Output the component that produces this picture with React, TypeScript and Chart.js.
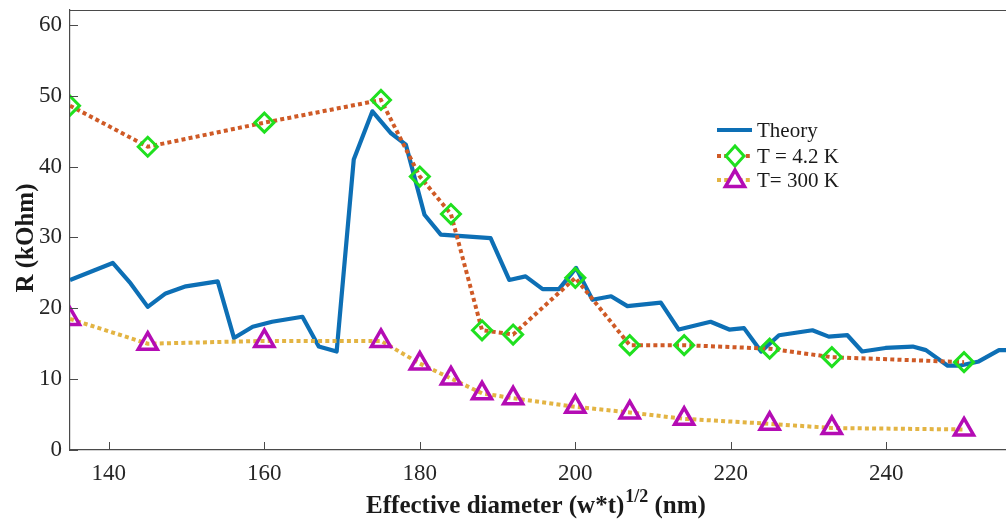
import React, { useEffect, useRef } from 'react';
import { Chart, registerables } from 'chart.js';

Chart.register(...registerables);

// ---------- data ----------
const theoryX = [135, 140.5, 142.8, 145, 147.3, 149.9, 154.0, 156.1, 158.5, 161.0, 164.9, 167.0, 169.3, 171.5, 173.9, 176.3, 178.2, 180.6, 182.7, 189.1, 191.5, 193.6, 195.8, 197.9, 200.1, 202.2, 204.6, 206.7, 211.0, 213.3, 217.4, 219.8, 221.7, 223.9, 226.2, 230.5, 232.6, 235.0, 236.9, 239.9, 243.4, 245.1, 247.9, 249.4, 251.9, 254.5, 256.0];
const theoryY = [24.0, 26.4, 23.5, 20.2, 22.1, 23.1, 23.8, 15.8, 17.4, 18.1, 18.8, 14.6, 13.9, 41.0, 47.8, 44.7, 43.1, 33.2, 30.4, 29.9, 24.0, 24.5, 22.7, 22.7, 25.7, 21.2, 21.7, 20.3, 20.8, 17.0, 18.1, 17.0, 17.2, 13.9, 16.2, 16.9, 16.0, 16.2, 13.9, 14.4, 14.6, 14.1, 11.9, 11.9, 12.5, 14.1, 14.1];

const measX = [135, 145, 160, 175, 180, 184, 188, 192, 200, 207, 214, 225, 233, 250];
const lowTY = [48.6, 42.8, 46.2, 49.4, 38.6, 33.3, 16.9, 16.3, 24.3, 14.8, 14.8, 14.3, 13.1, 12.4];
const roomTY = [18.5, 15.0, 15.4, 15.4, 12.2, 10.1, 8.0, 7.3, 6.1, 5.3, 4.4, 3.7, 3.1, 2.9];

const xTicks = [140, 160, 180, 200, 220, 240];
const yTicks = [0, 10, 20, 30, 40, 50, 60];

const seriesNames = ['Theory', 'T = 4.2 K', 'T= 300 K'];
const xTitleMain = 'Effective diameter (w*t)';
const xTitleSup = '1/2';
const xTitleEnd = ' (nm)';
const yTitle = 'R (kOhm)';

// ---------- styles ----------
const BLUE = '#0d6fb5';
const ORANGE = '#cf5a26';
const YELLOW = '#e3b443';
const GREEN = '#1fe01f';
const MAGENTA = '#b40cb4';
const AXIS = '#4a4a4a';
const TXT = '#262626';
const SERIF = '"Liberation Serif", "Times New Roman", serif';
const DASH = [4, 3.2];

const toPts = (xs: number[], ys: number[]) => xs.map((x, i) => ({ x, y: ys[i] }));

const zeroPad = (s: any) => {
  s.paddingTop = 0;
  s.paddingBottom = 0;
  s.paddingLeft = 0;
  s.paddingRight = 0;
};

const decorPlugin = {
  id: 'decor',
  afterDraw(chart: any) {
    const { ctx, chartArea } = chart;
    const xs = chart.scales.x;
    const ys = chart.scales.y;
    ctx.save();
    // top border
    ctx.strokeStyle = AXIS;
    ctx.lineWidth = 1.2;
    ctx.beginPath();
    ctx.moveTo(chartArea.left, chartArea.top + 0.5);
    ctx.lineTo(chartArea.right, chartArea.top + 0.5);
    ctx.stroke();
    // inward ticks
    ctx.lineWidth = 1;
    xTicks.forEach((v) => {
      const px = Math.round(xs.getPixelForValue(v)) + 0.5;
      ctx.beginPath();
      ctx.moveTo(px, chartArea.bottom);
      ctx.lineTo(px, chartArea.bottom - 8);
      ctx.stroke();
    });
    yTicks.forEach((v) => {
      const py = Math.round(ys.getPixelForValue(v)) + 0.5;
      ctx.beginPath();
      ctx.moveTo(chartArea.left, py);
      ctx.lineTo(chartArea.left + 8, py);
      ctx.stroke();
    });

    // x title with superscript
    ctx.fillStyle = '#1a1a1a';
    ctx.textBaseline = 'alphabetic';
    ctx.textAlign = 'left';
    const mainFont = `bold 25px ${SERIF}`;
    const supFont = `bold 18px ${SERIF}`;
    ctx.font = mainFont;
    const w1 = ctx.measureText(xTitleMain).width;
    const w3 = ctx.measureText(xTitleEnd).width;
    ctx.font = supFont;
    const w2 = ctx.measureText(xTitleSup).width;
    const total = w1 + w2 + w3;
    const cx = 535.5;
    let tx = cx - total / 2;
    const base = 513;
    ctx.font = mainFont;
    ctx.fillText(xTitleMain, tx, base);
    tx += w1;
    ctx.font = supFont;
    ctx.fillText(xTitleSup, tx + 1, base - 11);
    tx += w2 + 1;
    ctx.font = mainFont;
    ctx.fillText(xTitleEnd, tx, base);

    // y title
    ctx.save();
    ctx.translate(33, 238);
    ctx.rotate(-Math.PI / 2);
    ctx.textAlign = 'center';
    ctx.textBaseline = 'alphabetic';
    ctx.font = `bold 25px ${SERIF}`;
    ctx.fillText(yTitle, 0, 0);
    ctx.restore();

    // legend
    const lx0 = 717;
    const lx1 = 752;
    const mx = 735;
    const rows = [130, 156, 180];
    ctx.strokeStyle = BLUE;
    ctx.lineWidth = 4;
    ctx.setLineDash([]);
    ctx.beginPath();
    ctx.moveTo(lx0, rows[0]);
    ctx.lineTo(lx1, rows[0]);
    ctx.stroke();
    ctx.strokeStyle = ORANGE;
    ctx.lineWidth = 4;
    ctx.setLineDash(DASH);
    ctx.beginPath();
    ctx.moveTo(lx0, rows[1]);
    ctx.lineTo(lx1, rows[1]);
    ctx.stroke();
    ctx.strokeStyle = YELLOW;
    ctx.beginPath();
    ctx.moveTo(lx0, rows[2]);
    ctx.lineTo(lx1, rows[2]);
    ctx.stroke();
    ctx.setLineDash([]);
    ctx.fillStyle = '#ffffff';
    ctx.strokeStyle = GREEN;
    ctx.lineWidth = 3;
    ctx.beginPath();
    ctx.moveTo(mx - 9, rows[1]);
    ctx.lineTo(mx, rows[1] - 10);
    ctx.lineTo(mx + 9, rows[1]);
    ctx.lineTo(mx, rows[1] + 10);
    ctx.closePath();
    ctx.fill();
    ctx.stroke();
    ctx.strokeStyle = MAGENTA;
    ctx.lineWidth = 3.5;
    ctx.beginPath();
    const r = 11;
    for (let k = 0; k < 3; k++) {
      const a = (k * 2 * Math.PI) / 3;
      const px = mx + Math.sin(a) * r;
      const py = rows[2] + 1 - Math.cos(a) * r;
      if (k === 0) ctx.moveTo(px, py);
      else ctx.lineTo(px, py);
    }
    ctx.closePath();
    ctx.fill();
    ctx.stroke();
    ctx.fillStyle = '#1a1a1a';
    ctx.font = `21px ${SERIF}`;
    ctx.textAlign = 'left';
    ctx.textBaseline = 'middle';
    seriesNames.forEach((n, i) => ctx.fillText(n, 757, rows[i] + 1));
    ctx.restore();
  },
};

export default function App() {
  const ref = useRef<HTMLCanvasElement>(null);
  useEffect(() => {
    if (!ref.current) return;
    const chart = new Chart(ref.current, {
      type: 'line',
      data: {
        datasets: [
          {
            label: seriesNames[0],
            data: toPts(theoryX, theoryY),
            borderColor: BLUE,
            borderWidth: 4.2,
            pointRadius: 0,
            tension: 0,
            order: 3,
            borderJoinStyle: 'round',
          },
          {
            label: seriesNames[1],
            data: toPts(measX, lowTY),
            borderColor: ORANGE,
            borderWidth: 4,
            borderDash: DASH,
            pointStyle: 'rectRot',
            pointRadius: 9.5,
            pointBorderWidth: 3,
            pointBorderColor: GREEN,
            pointBackgroundColor: 'rgba(255,255,255,0)',
            tension: 0,
            order: 2,
          },
          {
            label: seriesNames[2],
            data: toPts(measX, roomTY),
            borderColor: YELLOW,
            borderWidth: 4,
            borderDash: DASH,
            pointStyle: 'triangle',
            pointRadius: 11,
            pointBorderWidth: 3.5,
            pointBorderColor: MAGENTA,
            pointBackgroundColor: 'rgba(255,255,255,0)',
            tension: 0,
            order: 1,
          },
        ],
      } as any,
      options: {
        animation: false,
        responsive: false,
        devicePixelRatio: 1,
        layout: { autoPadding: false, padding: { top: 10, right: 0, left: 0, bottom: 0 } },
        plugins: { legend: { display: false }, tooltip: { enabled: false } },
        scales: {
          x: {
            type: 'linear',
            min: 135,
            max: 255.4,
            afterFit: (s: any) => {
              s.height = 73;
              zeroPad(s);
            },
            afterBuildTicks: (s: any) => {
              s.ticks = xTicks.map((v) => ({ value: v }));
            },
            ticks: {
              font: { family: SERIF, size: 23 },
              color: TXT,
              padding: 10,
              maxRotation: 0,
              autoSkip: false,
            },
            grid: { display: true, drawOnChartArea: false, drawTicks: false },
            border: { display: true, color: AXIS, width: 1.2 },
          },
          y: {
            type: 'linear',
            min: 0,
            max: 62.1,
            afterFit: (s: any) => {
              s.width = 70;
              zeroPad(s);
            },
            afterBuildTicks: (s: any) => {
              s.ticks = yTicks.map((v) => ({ value: v }));
            },
            ticks: {
              font: { family: SERIF, size: 23 },
              color: TXT,
              padding: 8,
              autoSkip: false,
            },
            grid: { display: true, drawOnChartArea: false, drawTicks: false },
            border: { display: true, color: AXIS, width: 1.2 },
          },
        },
      } as any,
      plugins: [decorPlugin],
    });
    return () => chart.destroy();
  }, []);
  return (
    <div style={{ position: 'fixed', left: 0, top: 0, width: 1006, height: 523, background: '#ffffff' }}>
      <canvas ref={ref} width={1006} height={523} style={{ display: 'block', width: 1006, height: 523 }} />
    </div>
  );
}
